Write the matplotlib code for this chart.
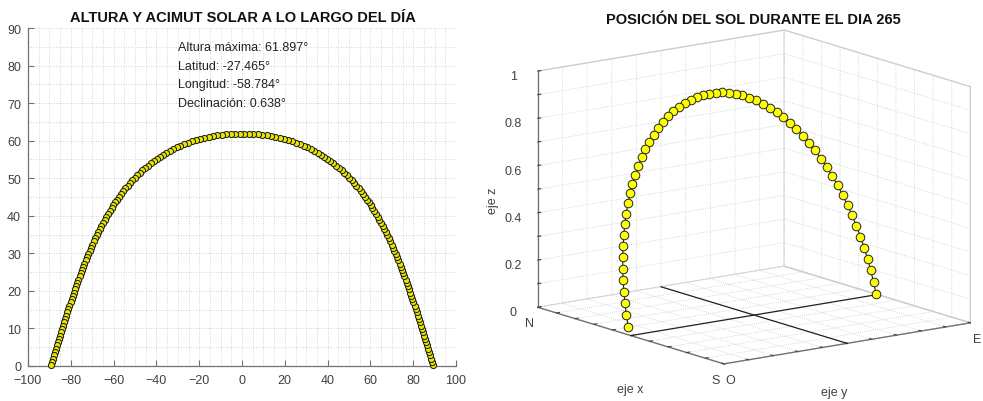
import numpy as np
import matplotlib
matplotlib.use('Agg')
import matplotlib.pyplot as plt
from matplotlib.ticker import MultipleLocator

plt.rcParams['font.family'] = ['Liberation Sans', 'DejaVu Sans']

# ---------------- data ----------------
# Solar azimuth (deg, east positive) and altitude (deg), from sunrise to noon
azimuth_morning = [89.20, 88.74, 88.28, 87.82, 87.35, 86.89, 86.42, 85.96, 85.49, 85.02,
                   84.54, 84.07, 83.59, 83.11, 82.62, 82.13, 81.64, 81.15, 80.64, 80.14,
                   79.63, 79.12, 78.60, 78.07, 77.54, 77.00, 76.45, 75.90, 75.34, 74.77,
                   74.19, 73.61, 73.01, 72.41, 71.79, 71.17, 70.53, 69.88, 69.22, 68.55,
                   67.86, 67.16, 66.44, 65.71, 64.97, 64.20, 63.42, 62.62, 61.80, 60.96,
                   60.10, 59.22, 58.32, 57.38, 56.43, 55.45, 54.44, 53.41, 52.35, 51.25,
                   50.13, 48.98, 47.78, 46.56, 45.29, 43.99, 42.66, 41.28, 39.86, 38.40,
                   36.90, 35.35, 33.77, 32.14, 30.46, 28.75, 26.99, 25.19, 23.35, 21.47,
                   19.55, 17.60, 15.61, 13.59, 11.55, 9.48, 7.40, 5.30, 3.18, 1.06]
altitude_morning = [0.15, 1.04, 1.92, 2.81, 3.70, 4.58, 5.47, 6.35, 7.24, 8.12,
                    9.01, 9.89, 10.77, 11.65, 12.54, 13.42, 14.29, 15.17, 16.04, 16.92,
                    17.79, 18.67, 19.54, 20.41, 21.27, 22.14, 23.00, 23.86, 24.72, 25.58,
                    26.43, 27.29, 28.14, 28.98, 29.83, 30.67, 31.51, 32.34, 33.17, 34.00,
                    34.83, 35.65, 36.46, 37.27, 38.08, 38.88, 39.68, 40.47, 41.25, 42.03,
                    42.80, 43.57, 44.33, 45.08, 45.82, 46.56, 47.29, 48.00, 48.71, 49.41,
                    50.09, 50.77, 51.43, 52.08, 52.72, 53.34, 53.95, 54.54, 55.12, 55.68,
                    56.22, 56.75, 57.25, 57.73, 58.19, 58.63, 59.05, 59.44, 59.80, 60.14,
                    60.46, 60.73, 60.99, 61.21, 61.41, 61.57, 61.70, 61.80, 61.87, 61.90]
# from noon to sunset
azimuth_afternoon = [-1.06, -3.18, -5.30, -7.40, -9.48, -11.55, -13.59, -15.61, -17.60, -19.55,
                     -21.47, -23.35, -25.19, -26.99, -28.75, -30.46, -32.14, -33.77, -35.35, -36.90,
                     -38.40, -39.86, -41.28, -42.66, -43.99, -45.29, -46.56, -47.78, -48.98, -50.13,
                     -51.25, -52.35, -53.41, -54.44, -55.45, -56.43, -57.38, -58.32, -59.22, -60.10,
                     -60.96, -61.80, -62.62, -63.42, -64.20, -64.97, -65.71, -66.44, -67.16, -67.86,
                     -68.55, -69.22, -69.88, -70.53, -71.17, -71.79, -72.41, -73.01, -73.61, -74.19,
                     -74.77, -75.34, -75.90, -76.45, -77.00, -77.54, -78.07, -78.60, -79.12, -79.63,
                     -80.14, -80.64, -81.15, -81.64, -82.13, -82.62, -83.11, -83.59, -84.07, -84.54,
                     -85.02, -85.49, -85.96, -86.42, -86.89, -87.35, -87.82, -88.28, -88.74, -89.20]
altitude_afternoon = [61.90, 61.87, 61.80, 61.70, 61.57, 61.41, 61.21, 60.99, 60.73, 60.46,
                      60.14, 59.80, 59.44, 59.05, 58.63, 58.19, 57.73, 57.25, 56.75, 56.22,
                      55.68, 55.12, 54.54, 53.95, 53.34, 52.72, 52.08, 51.43, 50.77, 50.09,
                      49.41, 48.71, 48.00, 47.29, 46.56, 45.82, 45.08, 44.33, 43.57, 42.80,
                      42.03, 41.25, 40.47, 39.68, 38.88, 38.08, 37.27, 36.46, 35.65, 34.83,
                      34.00, 33.17, 32.34, 31.51, 30.67, 29.83, 28.98, 28.14, 27.29, 26.43,
                      25.58, 24.72, 23.86, 23.00, 22.14, 21.27, 20.41, 19.54, 18.67, 17.79,
                      16.92, 16.04, 15.17, 14.29, 13.42, 12.54, 11.65, 10.77, 9.89, 9.01,
                      8.12, 7.24, 6.35, 5.47, 4.58, 3.70, 2.81, 1.92, 1.04, 0.15]

info_lines = ['Altura máxima: 61.897°', 'Latitud: -27.465°',
              'Longitud: -58.784°', 'Declinación: 0.638°']
info_y = [85, 80, 75, 70]
title_left = 'ALTURA Y ACIMUT SOLAR A LO LARGO DEL DÍA'
title_right = 'POSICIÓN DEL SOL DURANTE EL DIA 265'
x3_labels = ['N', 'S']
y3_labels = ['O', 'E']
axis3_titles = ['eje x', 'eje y', 'eje z']

azimuth = np.array(azimuth_morning + azimuth_afternoon)
altitude = np.array(altitude_morning + altitude_afternoon)

# ---------------- figure ----------------
W, H = 983, 402
fig = plt.figure(figsize=(W / 100, H / 100), dpi=100)
fig.patch.set_facecolor('white')

TXT = '#404040'
AX = '#707070'

# ----- left: altitude vs azimuth -----
ax = fig.add_axes([28 / W, 1 - 367 / H, 428 / W, 338 / H])
ax.plot(azimuth, altitude, 'o', ms=4.4, mfc='#e8e800', mec='#202020', mew=0.75,
        zorder=3, clip_on=False)
ax.set_xlim(-100, 100)
ax.set_ylim(0, 90)
ax.xaxis.set_major_locator(MultipleLocator(20))
ax.yaxis.set_major_locator(MultipleLocator(10))
ax.xaxis.set_minor_locator(MultipleLocator(5))
ax.yaxis.set_minor_locator(MultipleLocator(5))
ax.grid(True, which='both', color='#c4c4c4', linestyle=(0, (1, 2)), linewidth=0.6)
ax.set_axisbelow(True)
for s in ('top', 'right'):
    ax.spines[s].set_visible(False)
for s in ('left', 'bottom'):
    ax.spines[s].set_color(AX)
    ax.spines[s].set_linewidth(0.9)
ax.tick_params(which='major', direction='in', length=4, width=0.8, color=AX,
               labelsize=9, labelcolor=TXT)
ax.tick_params(axis='x', which='major', pad=6)
ax.tick_params(axis='y', which='major', pad=5)
ax.tick_params(which='minor', length=0)
for txt, yy in zip(info_lines, info_y):
    ax.text(-30, yy, txt, fontsize=9, color='#222222', ha='left', va='center')

fig.text(243 / W, 1 - 18 / H, title_left, ha='center', va='center',
         fontsize=10.5, fontweight='bold', color='#111111')

# ----- right: 3D position of the sun -----
alt_r = np.radians(altitude)
az_r = np.radians(azimuth)
sel = slice(0, None, 3)
x3 = -np.cos(alt_r[sel]) * np.cos(az_r[sel])
y3 = np.cos(alt_r[sel]) * np.sin(az_r[sel])
z3 = np.sin(alt_r[sel])

ax3 = fig.add_axes([0.512, 0.03, 0.50, 0.93], projection='3d')
ax3.set_proj_type('ortho')
ax3.view_init(elev=13, azim=-36.5)
ax3.set_box_aspect((1, 0.98, 0.775), zoom=1.30)
ax3.set_xlim(-1, 1)
ax3.set_ylim(-1, 1)
ax3.set_zlim(0, 1)

ax3.plot([-1, 1], [0, 0], [0, 0], color='#222222', lw=0.9)
ax3.plot([0, 0], [-1, 1], [0, 0], color='#222222', lw=0.9)
ax3.plot(x3, y3, z3, '-o', color='#222222', lw=0.8, ms=6.2, mfc='#ffff00',
         mec='#222222', mew=0.7)

xt = np.round(np.arange(-1, 1.01, 0.2), 2)
ax3.set_xticks(xt)
ax3.set_xticklabels([x3_labels[0]] + [''] * (len(xt) - 2) + [x3_labels[1]])
ax3.set_yticks(xt)
ax3.set_yticklabels([y3_labels[0]] + [''] * (len(xt) - 2) + [y3_labels[1]])
zt = np.round(np.arange(0, 1.01, 0.1), 2)
ax3.set_zticks(zt)
ax3.set_zticklabels([('0' if v == 0 else ('1' if v == 1 else f'{v:g}')) if i % 2 == 0 else ''
                     for i, v in enumerate(zt)])
ax3.zaxis.set_ticks_position('lower')
ax3.zaxis.set_label_position('lower')

for axis in (ax3.xaxis, ax3.yaxis, ax3.zaxis):
    axis.set_pane_color((1, 1, 1, 1))
    axis.pane.set_edgecolor('#d0d0d0')
    axis._axinfo['grid'].update(color='#cccccc', linestyle=':', linewidth=0.6)
    axis._axinfo['tick']['inward_factor'] = 0.0
    axis._axinfo['tick']['outward_factor'] = 0.15
    axis.line.set_color(AX)
    axis.line.set_linewidth(0.9)
ax3.tick_params(labelsize=9, colors=TXT, pad=0)
ax3.tick_params(axis='x', pad=-3)
ax3.tick_params(axis='y', pad=-3)
ax3.set_xlabel('')
ax3.set_ylabel('')
ax3.set_zlabel('')

fig.text(630 / W, 1 - 390 / H, axis3_titles[0], ha='center', va='center', fontsize=9, color=TXT)
fig.text(834 / W, 1 - 393 / H, axis3_titles[1], ha='center', va='center', fontsize=9, color=TXT)
fig.text(493 / W, 1 - 201 / H, axis3_titles[2], ha='center', va='center', fontsize=9,
         color=TXT, rotation=90)

fig.text(753 / W, 1 - 20 / H, title_right, ha='center', va='center',
         fontsize=10.5, fontweight='bold', color='#111111')

fig.savefig('out.png', dpi=100, facecolor='white')
